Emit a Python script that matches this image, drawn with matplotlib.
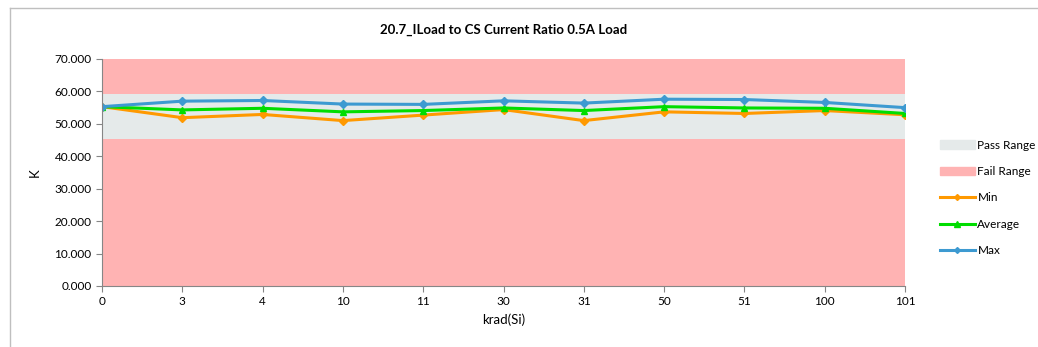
import matplotlib.pyplot as plt
from matplotlib.patches import Patch
from matplotlib.lines import Line2D

plt.rcParams['font.family'] = ['Lato', 'DejaVu Sans']

# krad(Si) categories
doses = ['0', '3', '4', '10', '11', '30', '31', '50', '51', '100', '101']
k_min = [55.3, 51.9, 52.9, 51.0, 52.7, 54.4, 51.0, 53.7, 53.2, 54.1, 52.8]
k_avg = [55.3, 54.3, 54.8, 53.7, 54.1, 54.9, 54.1, 55.3, 54.9, 54.8, 53.2]
k_max = [55.3, 57.0, 57.2, 56.1, 56.0, 57.1, 56.4, 57.6, 57.5, 56.6, 55.0]
pass_low = 45.3
pass_high = 59.3
y_top = 70.0

fail_col = '#FFB3B3'
pass_col = '#E5EAEA'

fig = plt.figure(figsize=(10.38, 3.47), dpi=100)
ax = fig.add_axes([0.0983, 0.1758, 0.7736, 0.6542])

x = list(range(len(doses)))
ax.fill_between(x, 0, pass_low, color=fail_col, lw=0)
ax.fill_between(x, pass_low, pass_high, color=pass_col, lw=0)
ax.fill_between(x, pass_high, y_top, color=fail_col, lw=0)

ax.plot(x, k_min, color='#FF9900', lw=2.2, marker='D', ms=4)
ax.plot(x, k_avg, color='#00DD00', lw=2.2, marker='^', ms=5)
ax.plot(x, k_max, color='#3D9AD1', lw=2.2, marker='D', ms=4)

ax.set_xlim(0, len(doses) - 1)
ax.set_ylim(0, 70)
ax.set_xticks(x)
ax.set_xticklabels(doses)
ax.set_yticks(range(0, 71, 10))
ax.set_yticklabels(['%.3f' % v for v in range(0, 71, 10)])
ax.tick_params(labelsize=8.5, color='#868686', length=4, direction='out')
ax.tick_params(axis='x', pad=3)
for s in ['top', 'right']:
    ax.spines[s].set_visible(False)
for s in ['left', 'bottom']:
    ax.spines[s].set_color('#868686')

ax.set_xlabel('krad(Si)', fontsize=9.5, labelpad=5)
ax.set_ylabel('K', fontsize=9.5, labelpad=10)
ax.set_title('20.7_ILoad to CS Current Ratio 0.5A Load', fontsize=9.5,
             fontweight='bold', pad=18)

handles = [Patch(color=pass_col), Patch(color=fail_col),
           Line2D([], [], color='#FF9900', lw=2.2, marker='D', ms=3),
           Line2D([], [], color='#00DD00', lw=2.2, marker='^', ms=4),
           Line2D([], [], color='#3D9AD1', lw=2.2, marker='D', ms=3)]
fig.legend(handles, ['Pass Range', 'Fail Range', 'Min', 'Average', 'Max'],
           loc='center left', bbox_to_anchor=(0.895, 0.43), frameon=False,
           fontsize=8.5, handlelength=3, labelspacing=1.3, handletextpad=0.2)

# outer chart border
fig.add_artist(Line2D([10 / 1038, 10 / 1038], [0, 1 - 8 / 347],
                      color='#BFBFBF', lw=1))
fig.add_artist(Line2D([10 / 1038, 1], [1 - 8 / 347, 1 - 8 / 347],
                      color='#BFBFBF', lw=1))

fig.savefig('out.png', dpi=100)
